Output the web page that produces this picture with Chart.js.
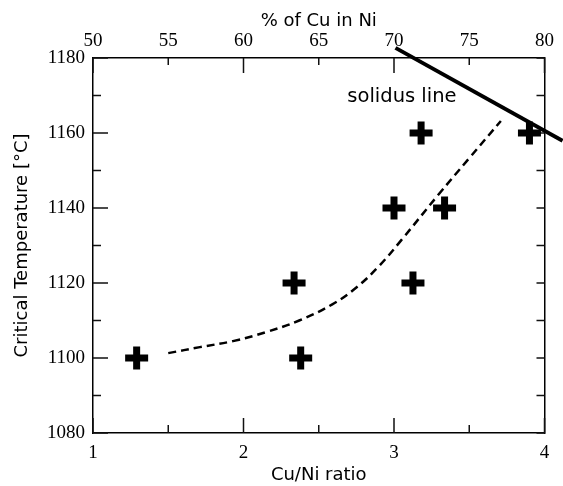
<!DOCTYPE html>
<html>
<head>
<meta charset="utf-8">
<script src="https://cdn.jsdelivr.net/npm/chart.js@4"></script>
<style>
  html, body { margin: 0; padding: 0; background: #fff; }
  canvas { display: block; }
</style>
</head>
<body>
<canvas id="tcChart" width="563" height="486"></canvas>
<script>
// measured points (Cu/Ni ratio vs critical temperature)
const ratioX = [1.29, 2.336, 2.38, 3.0, 3.126, 3.18, 3.336, 3.90];
const tempY = [1100, 1120, 1100, 1140, 1120, 1160, 1140, 1160];

// dashed trend curve
const trendX = [1.50, 1.71, 1.93, 2.15, 2.37, 2.59, 2.75, 2.90, 3.05, 3.30, 3.50, 3.71];
const trendY = [1101.3, 1102.9, 1104.5, 1106.9, 1110.0, 1114.3, 1118.8, 1124.5, 1131.5, 1143.8, 1153.3, 1163.2];

// solidus line (runs past the frame)
const solidusX = [3.01, 4.12];
const solidusY = [1182.7, 1157.9];

const SERIF = "'Liberation Serif', 'Times New Roman', serif";
const SANS = "'DejaVu Sans', sans-serif";

const toXY = (xs, ys) => xs.map((x, i) => ({ x: x, y: ys[i] }));

// ticks point inward, long on major values
const innerTicks = {
    id: 'innerTicks',
    beforeDatasetsDraw(chart) {
        const { ctx, chartArea: a, scales } = chart;
        ctx.save();
        ctx.strokeStyle = '#111';
        ctx.lineWidth = 1.5;
        ctx.beginPath();
        scales.x.ticks.forEach(t => {
            const p = scales.x.getPixelForValue(t.value);
            const len = Number.isInteger(t.value) ? 15 : 8;
            ctx.moveTo(p, a.bottom); ctx.lineTo(p, a.bottom - len);
        });
        scales.x2.ticks.forEach(t => {
            const p = scales.x2.getPixelForValue(t.value);
            const len = t.value % 10 === 0 ? 15 : 7;
            ctx.moveTo(p, a.top); ctx.lineTo(p, a.top + len);
        });
        scales.y.ticks.forEach(t => {
            const p = scales.y.getPixelForValue(t.value);
            const len = t.value % 20 === 0 ? 15 : 8;
            ctx.moveTo(a.left, p); ctx.lineTo(a.left + len, p);
        });
        scales.y2.ticks.forEach(t => {
            const p = scales.y2.getPixelForValue(t.value);
            ctx.moveTo(a.right, p); ctx.lineTo(a.right - 8, p);
        });
        ctx.stroke();
        ctx.restore();
    },
    afterDatasetsDraw(chart) {
        const { ctx, scales } = chart;
        ctx.save();
        ctx.fillStyle = '#000';
        ctx.font = '19.5px ' + SANS;
        ctx.textAlign = 'left';
        ctx.textBaseline = 'alphabetic';
        ctx.fillText('solidus line', scales.x.getPixelForValue(2.69), scales.y.getPixelForValue(1168.3));
        ctx.restore();
    }
};

const fixSize = (w, h) => scale => {
    if (w !== null) scale.width = w;
    if (h !== null) scale.height = h;
};

const noGrid = { display: false, drawTicks: false };

new Chart(document.getElementById('tcChart').getContext('2d'), {
    type: 'scatter',
    data: {
        datasets: [
            {
                label: 'solidus',
                data: toXY(solidusX, solidusY),
                showLine: true,
                borderColor: '#000',
                borderWidth: 4,
                pointRadius: 0,
                clip: false
            },
            {
                label: 'trend',
                data: toXY(trendX, trendY),
                showLine: true,
                borderColor: '#000',
                borderWidth: 2.5,
                borderDash: [8, 5],
                tension: 0.4,
                pointRadius: 0
            },
            {
                label: 'measured',
                data: toXY(ratioX, tempY),
                pointStyle: 'cross',
                pointRadius: 11.5,
                pointBorderWidth: 7,
                borderColor: '#000',
                backgroundColor: '#000',
                clip: false
            }
        ]
    },
    options: {
        responsive: false,
        animation: false,
        layout: { padding: 0 },
        plugins: { legend: { display: false }, tooltip: { enabled: false } },
        scales: {
            x: {
                type: 'linear', position: 'bottom', min: 1, max: 4,
                afterFit: fixSize(null, 53),
                grid: noGrid,
                border: { color: '#000', width: 1.5 },
                ticks: {
                    stepSize: 0.5, autoSkip: false, maxRotation: 0, padding: 9,
                    color: '#000', font: { family: SERIF, size: 19 },
                    callback: v => Number.isInteger(v) ? v : ''
                },
                title: {
                    display: true, text: 'Cu/Ni ratio', color: '#000',
                    font: { family: SANS, size: 18 }, padding: { top: 0, bottom: 0 }
                }
            },
            x2: {
                type: 'linear', axis: 'x', position: 'top', min: 50, max: 80,
                afterFit: fixSize(null, 58),
                grid: noGrid,
                border: { color: '#000', width: 1.5 },
                ticks: {
                    stepSize: 5, autoSkip: false, maxRotation: 0, padding: 6,
                    color: '#000', font: { family: SERIF, size: 19 }
                },
                title: {
                    display: true, text: '% of Cu in Ni', color: '#000',
                    font: { family: SANS, size: 18 }, padding: { top: 11, bottom: 0 }
                }
            },
            y: {
                type: 'linear', position: 'left', min: 1080, max: 1180,
                afterFit: fixSize(93, null),
                grid: noGrid,
                border: { color: '#000', width: 1.5 },
                ticks: {
                    stepSize: 10, autoSkip: false, padding: 8,
                    color: '#000', font: { family: SERIF, size: 19 },
                    callback: v => v % 20 === 0 ? v : ''
                },
                title: {
                    display: true, text: 'Critical Temperature [°C]', color: '#000',
                    font: { family: SANS, size: 18 }, padding: { top: 12, bottom: 0 }
                }
            },
            y2: {
                type: 'linear', axis: 'y', position: 'right', min: 1080, max: 1180,
                afterFit: fixSize(18, null),
                grid: noGrid,
                border: { color: '#000', width: 1.5 },
                ticks: { stepSize: 10, display: false }
            }
        }
    },
    plugins: [innerTicks]
});
</script>
</body>
</html>
